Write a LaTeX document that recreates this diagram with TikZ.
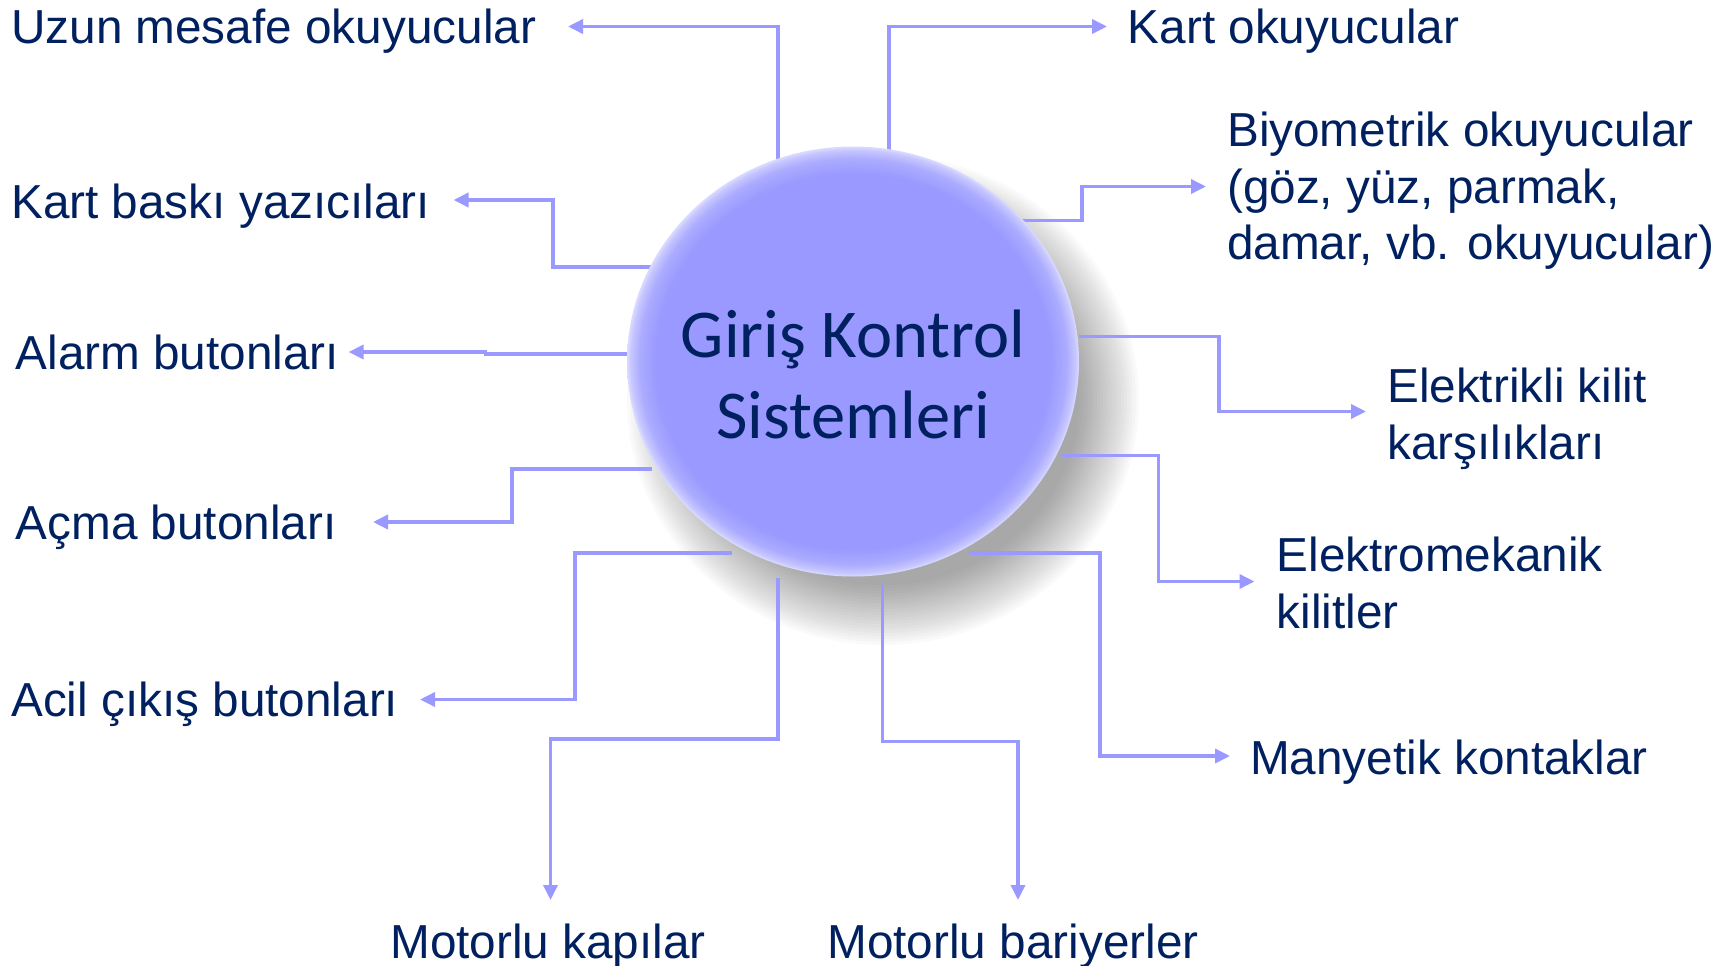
\documentclass[tikz,border=0pt]{standalone}
\usepackage{fontspec}
\setmainfont{Liberation Sans}
\newfontfamily\calfont{Carlito}
\usetikzlibrary{arrows.meta,shapes.geometric}
\definecolor{navy}{RGB}{0,32,96}
\definecolor{lav}{RGB}{153,153,255}
\pgfdeclareradialshading{ballglow}{\pgfpoint{0bp}{0bp}}{color(0bp)=(lav); color(21.8bp)=(lav); color(23.6bp)=(lav!82!white); color(24.6bp)=(lav!55!white); color(25bp)=(lav!35!white); color(50bp)=(white)}
\newcommand{\mlines}[1]{\begin{tabular}[t]{@{}l@{}}#1\end{tabular}}
\begin{document}
\begin{tikzpicture}[x=1pt,y=-1pt,
  conn/.style={draw=lav, line width=3.5pt, -{Triangle[length=15pt,width=14pt]}},
  lbl/.style={font=\fontsize{47.7}{57}\selectfont, text=navy, inner sep=0pt},
  hubstyle/.style={ellipse, minimum width=452pt, minimum height=430pt, inner sep=0pt, shading=ballglow},
  hubtext/.style={font=\calfont\fontsize{68.5}{81}\selectfont, text=navy, inner sep=0pt, align=center}
]
\useasboundingbox (0,0) rectangle (1730,966);
% shadow
\foreach \i in {0,...,20}
  \fill[black,opacity=0.019] (883,400) ellipse [x radius={256-3*\i}, y radius={245-3*\i}];
% labels
\node[lbl, anchor=base west] (uzun) at (11,44) {Uzun mesafe okuyucular};
\node[lbl, anchor=base west] (kartb) at (11,218) {Kart baskı yazıcıları};
\node[lbl, anchor=base west] (alarm) at (15.5,369) {Alarm butonları};
\node[lbl, anchor=base west] (acma) at (15.5,539) {Açma butonları};
\node[lbl, anchor=base west] (acil) at (11,716) {Acil çıkış butonları};
\node[lbl, anchor=base west] (kart) at (1127.6,44) {Kart okuyucular};
\node[lbl, anchor=base west] (bio) at (1227,146) {\mlines{Biyometrik okuyucular\\(göz, yüz, parmak,\\damar, vb. okuyucular)}};
\node[lbl, anchor=base west] (elek) at (1387,402) {\mlines{Elektrikli kilit\\karşılıkları}};
\node[lbl, anchor=base west] (emek) at (1276.5,571) {\mlines{Elektromekanik\\kilitler}};
\node[lbl, anchor=base west] (many) at (1250,774) {Manyetik kontaklar};
\node[lbl, anchor=base] (mkap) at (548,958) {Motorlu kapılar};
\node[lbl, anchor=base] (mbar) at (1013,958) {Motorlu bariyerler};
% connector ends
\coordinate (s1) at (778,166);    \coordinate (t1) at (568,26.5);
\coordinate (s2) at (889,151);    \coordinate (t2) at (1107,26.5);
\coordinate (s3) at (1004,220.7); \coordinate (t3) at (1206,186.5);
\coordinate (s4) at (652,267);    \coordinate (t4) at (453.5,200);
\coordinate (s5) at (627,354);    \coordinate (t5) at (348.6,352);
\coordinate (s6) at (1079,336.5); \coordinate (t6) at (1366,411.5);
\coordinate (s7) at (652,469);    \coordinate (t7) at (373,522);
\coordinate (s8) at (1061,455.7); \coordinate (t8) at (1254.5,581.5);
\coordinate (s9) at (731.5,553);  \coordinate (t9) at (420,699.5);
\coordinate (s10) at (968.7,553); \coordinate (t10) at (1230,756);
\coordinate (s11) at (778,578);   \coordinate (t11) at (550.5,900);
\coordinate (s12) at (882.6,582.5); \coordinate (t12) at (1018,900);
% connectors
\draw[conn] (s1) |- (t1);
\draw[conn] (s2) |- (t2);
\draw[conn] (s3) -- ++(78,0) |- (t3);
\draw[conn] (s4) -- ++(-99,0) |- (t4);
\draw[conn] (s5) -- ++(-141.5,0) |- (t5);
\draw[conn] (s6) -- ++(140,0) |- (t6);
\draw[conn] (s7) -- ++(-140,0) |- (t7);
\draw[conn] (s8) -- ++(97.5,0) |- (t8);
\draw[conn] (s9) -- ++(-156.5,0) |- (t9);
\draw[conn] (s10) -- ++(131.3,0) |- (t10);
\draw[conn] (s11) -- ++(0,161) -| (t11);
\draw[conn] (s12) -- ++(0,158.9) -| (t12);
% hub
\node[hubstyle] (hub) at (853,361.5) {};
\node[hubtext, anchor=base] (hubt) at (853,357) {\mlines{\hfil Giriş Kontrol\hfil\\\hfil Sistemleri\hfil}};
\end{tikzpicture}
\end{document}
